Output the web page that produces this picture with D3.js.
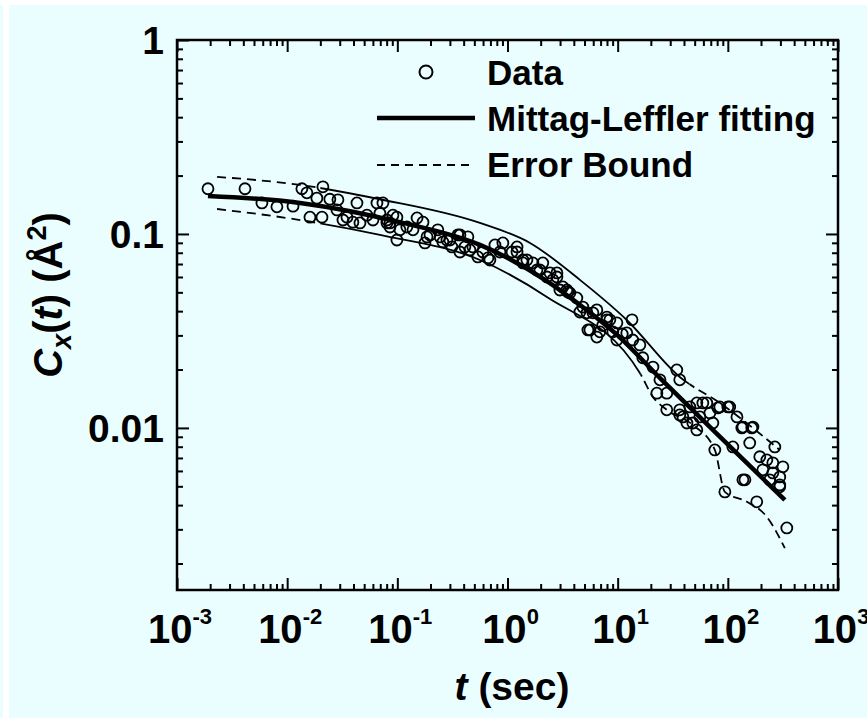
<!DOCTYPE html>
<html>
<head>
<meta charset="utf-8">
<script src="https://cdn.jsdelivr.net/npm/d3@7"></script>
<style>
  html, body { margin: 0; padding: 0; background: #eafeff; }
  svg text { font-family: "Liberation Sans", Arial, sans-serif; font-weight: bold; fill: #000; }
</style>
</head>
<body>
<div id="chart"></div>
<script>
// measured data points (t in sec, C in A^2)
var dataT = [0.00191, 0.00414, 0.0059, 0.00807, 0.0113, 0.0136, 0.0161, 0.0207, 0.0211, 0.0186,
  0.0244, 0.0289, 0.0321, 0.043, 0.0395, 0.0458, 0.0653, 0.0601, 0.0805, 0.0991,
  0.0991, 0.122, 0.151, 0.171, 0.186, 0.244, 0.300, 0.370, 0.437, 0.410,
  0.538, 0.692, 0.074, 0.0805, 0.0912, 0.178, 0.233, 0.282, 0.355, 0.456,
  0.664, 0.908, 1.10, 1.22, 1.38, 1.85, 2.09, 2.43, 2.81, 3.18,
  3.53, 4.26, 4.54, 5.96, 7.98, 5.37, 9.84, 6.89, 1.38, 2.81,
  3.46, 5.26, 5.60, 6.47, 7.98, 9.84, 12.1, 13.5, 13.7, 16.9,
  20.9, 24.2, 34.4, 36.6, 22.7, 27.9, 36.6, 42.5, 45.2, 52.3,
  64.4, 68.7, 55.7, 73.1, 84.6, 104, 121, 137, 169, 158,
  195, 226, 256, 267, 316, 256, 296, 76.2, 143, 94.0,
  183, 343, 48.1, 111, 208, 240, 39.1, 52.3, 59.3, 81.1,
  100, 134, 165, 137, 296, 296, 36.6, 27.9, 7.3, 11.0, 15.9,
  0.0857, 0.1056, 0.1387, 0.198, 0.259, 0.313, 0.370, 0.485, 0.598, 0.769,
  0.853, 1.22, 1.50, 1.70, 1.97, 2.28, 2.58, 2.99, 3.68, 4.83,
  6.47, 8.49, 9.04, 0.0151, 0.0283, 0.0349, 0.053, 0.0695, 0.0857];
var dataC = [0.171, 0.171, 0.1445, 0.138, 0.139, 0.171, 0.122, 0.122, 0.175, 0.153,
  0.151, 0.150, 0.118, 0.1445, 0.115, 0.114, 0.1445, 0.118, 0.114, 0.122,
  0.0931, 0.1086, 0.121, 0.115, 0.0966, 0.0966, 0.0931, 0.0989, 0.0966, 0.0857,
  0.0761, 0.0734, 0.1445, 0.118, 0.125, 0.0899, 0.105, 0.0931, 0.0989, 0.0827,
  0.0752, 0.0899, 0.0807, 0.0807, 0.0734, 0.0652, 0.0709, 0.0630, 0.0600, 0.0533,
  0.0502, 0.0468, 0.0396, 0.0392, 0.0373, 0.0320, 0.0348, 0.0313, 0.0709, 0.0630,
  0.0514, 0.0392, 0.0320, 0.0294, 0.0361, 0.0284, 0.0309, 0.0361, 0.0284, 0.0230,
  0.0206, 0.0177, 0.0199, 0.0177, 0.0151, 0.0124, 0.01167, 0.0106, 0.01283, 0.01345,
  0.01345, 0.01194, 0.0114, 0.0106, 0.01283, 0.01283, 0.0114, 0.0101, 0.0101, 0.00837,
  0.0071, 0.00684, 0.00661, 0.00798, 0.00630, 0.00586, 0.00497, 0.0077, 0.00540, 0.00468,
  0.00416, 0.00305, 0.0106, 0.00798, 0.00608, 0.00540, 0.0114, 0.00977, 0.01345, 0.01268,
  0.01283, 0.0100, 0.0100, 0.0054, 0.00559, 0.00508, 0.0124, 0.0151, 0.0337, 0.0305, 0.0268,
  0.114, 0.105, 0.105, 0.0989, 0.091, 0.0857, 0.0807, 0.0857, 0.0807, 0.0878,
  0.0807, 0.0857, 0.0734, 0.0709, 0.0652, 0.060, 0.058, 0.0514, 0.0496, 0.042,
  0.0406, 0.0361, 0.0313, 0.163, 0.133, 0.122, 0.125, 0.128, 0.1086];

// Mittag-Leffler fit
var fitT = [0.00191, 0.0131, 0.1056, 0.562, 2.28, 4.54, 9.43, 25.7, 73.1, 329];
var fitC = [0.157, 0.1445, 0.115, 0.0878, 0.0572, 0.0431, 0.0309, 0.01746, 0.00977, 0.00425];

// error bounds
var upperT = [0.00231, 0.0131, 0.0695, 0.562, 1.60, 4.54, 12.1, 36.6, 84.6, 296];
var upperC = [0.197, 0.179, 0.151, 0.114, 0.0899, 0.058, 0.036, 0.0183, 0.01345, 0.0077];
var lowerT = [0.00231, 0.0131, 0.0695, 0.562, 2.28, 15.9, 20.9, 27.9, 48.1, 76.2, 94.0, 149, 226, 329];
var lowerC = [0.1345, 0.118, 0.0989, 0.0734, 0.0473, 0.0192, 0.01445, 0.0124, 0.01036, 0.0077, 0.00468, 0.00416, 0.00348, 0.0024];

var xTicks = [1e-3, 1e-2, 1e-1, 1e0, 1e1, 1e2, 1e3];
var xExp = ["-3", "-2", "-1", "0", "1", "2", "3"];
var yTicks = [1, 0.1, 0.01];
var yLabels = ["1", "0.1", "0.01"];
var legendLabels = ["Data", "Mittag-Leffler fitting", "Error Bound"];

var width = 867, height = 718;
var plot = { left: 177, right: 838, top: 40, bottom: 590 };

var svg = d3.select("#chart").append("svg")
  .attr("width", width)
  .attr("height", height);

// scan border stripes
svg.append("rect").attr("x", 0).attr("y", 0).attr("width", width).attr("height", 5).attr("fill", "#fff");
svg.append("rect").attr("x", 3).attr("y", 0).attr("width", 6).attr("height", height).attr("fill", "#fff");

var x = d3.scaleLog().domain([1e-3, 1e3]).range([plot.left, plot.right]);
var y = d3.scaleLog().domain([1, 0.00146]).range([plot.top, plot.bottom]);

var minorX = x.ticks().filter(function (d) { return xTicks.indexOf(d) < 0; });
var minorY = y.ticks().filter(function (d) {
  var e = Math.log10(d);
  return Math.abs(e - Math.round(e)) > 1e-6;
});

// ticks (inward on all four sides)
function drawAxis(axis, tx, ty) {
  var g = svg.append("g").attr("transform", "translate(" + tx + "," + ty + ")").call(axis);
  g.select(".domain").remove();
  g.selectAll("line").attr("stroke", "#000").attr("stroke-width", 2);
  g.selectAll("text").remove();
}
drawAxis(d3.axisBottom(x).tickValues(xTicks).tickSize(-12).tickFormat(""), 0, plot.bottom);
drawAxis(d3.axisBottom(x).tickValues(minorX).tickSize(-6).tickFormat(""), 0, plot.bottom);
drawAxis(d3.axisTop(x).tickValues(xTicks).tickSize(-12).tickFormat(""), 0, plot.top);
drawAxis(d3.axisTop(x).tickValues(minorX).tickSize(-6).tickFormat(""), 0, plot.top);
drawAxis(d3.axisLeft(y).tickValues(yTicks).tickSize(-12).tickFormat(""), plot.left, 0);
drawAxis(d3.axisLeft(y).tickValues(minorY).tickSize(-6).tickFormat(""), plot.left, 0);
drawAxis(d3.axisRight(y).tickValues(yTicks).tickSize(-12).tickFormat(""), plot.right, 0);
drawAxis(d3.axisRight(y).tickValues(minorY).tickSize(-6).tickFormat(""), plot.right, 0);

svg.append("rect")
  .attr("x", plot.left).attr("y", plot.top)
  .attr("width", plot.right - plot.left).attr("height", plot.bottom - plot.top)
  .attr("fill", "none").attr("stroke", "#000").attr("stroke-width", 2.5);

// tick labels
var xl = svg.append("g").selectAll("text")
  .data(xTicks)
  .enter().append("text")
  .attr("x", function (d) { return x(d) + 3; })
  .attr("y", plot.bottom + 53)
  .attr("text-anchor", "middle")
  .style("font-size", "40px");
xl.append("tspan").text("10");
xl.append("tspan")
  .attr("dy", -19)
  .style("font-size", "22px")
  .text(function (d, i) { return xExp[i]; });

svg.append("g").selectAll("text")
  .data(yTicks)
  .enter().append("text")
  .attr("x", 164)
  .attr("y", function (d) { return y(d) + 14; })
  .attr("text-anchor", "end")
  .style("font-size", "39px")
  .text(function (d, i) { return yLabels[i]; });

// axis titles
var xt = svg.append("text")
  .attr("x", 512).attr("y", 700)
  .attr("text-anchor", "middle")
  .style("font-size", "39px");
xt.append("tspan").style("font-style", "italic").text("t");
xt.append("tspan").text(" (sec)");

var yt = svg.append("text")
  .attr("transform", "translate(62,295) rotate(-90)")
  .attr("text-anchor", "middle")
  .style("font-size", "40px");
yt.append("tspan").style("font-style", "italic").text("C");
yt.append("tspan").attr("dy", 9).style("font-size", "27px").style("font-style", "italic").text("x");
yt.append("tspan").attr("dy", -9).text("(");
yt.append("tspan").style("font-style", "italic").text("t");
yt.append("tspan").text(") (Å");
yt.append("tspan").attr("dy", -16).style("font-size", "27px").text("2");
yt.append("tspan").attr("dy", 16).text(")");

// error bounds: dashed where sparse, solid in the middle
var line = d3.line()
  .x(function (d) { return x(d[0]); })
  .y(function (d) { return y(d[1]); })
  .curve(d3.curveMonotoneX);

var defs = svg.append("defs");
function clip(id, t0, t1) {
  defs.append("clipPath").attr("id", id).append("rect")
    .attr("x", x(t0)).attr("y", 0)
    .attr("width", x(t1) - x(t0)).attr("height", height);
}
clip("up-dash1", 1e-3, 0.02);
clip("up-solid", 0.02, 45);
clip("up-dash2", 45, 1e3);
clip("lo-dash1", 1e-3, 0.02);
clip("lo-solid", 0.02, 16);
clip("lo-dash2", 16, 1e3);

var upper = d3.zip(upperT, upperC);
var lower = d3.zip(lowerT, lowerC);
[["up", upper], ["lo", lower]].forEach(function (b) {
  [["dash1", "9,6"], ["solid", null], ["dash2", "9,5"]].forEach(function (s) {
    svg.append("path")
      .attr("d", line(b[1]))
      .attr("clip-path", "url(#" + b[0] + "-" + s[0] + ")")
      .attr("fill", "none")
      .attr("stroke", "#000")
      .attr("stroke-width", 1.8)
      .attr("stroke-dasharray", s[1]);
  });
});

// data circles
svg.append("g").selectAll("circle")
  .data(d3.zip(dataT, dataC))
  .enter().append("circle")
  .attr("cx", function (d) { return x(d[0]); })
  .attr("cy", function (d) { return y(d[1]); })
  .attr("r", 5.5)
  .attr("fill", "none")
  .attr("stroke", "#000")
  .attr("stroke-width", 1.8);

// fit
svg.append("path")
  .attr("d", line(d3.zip(fitT, fitC)))
  .attr("fill", "none")
  .attr("stroke", "#000")
  .attr("stroke-width", 4.5);

// legend
var lg = svg.append("g");
lg.append("circle").attr("cx", 426).attr("cy", 72).attr("r", 6.5)
  .attr("fill", "none").attr("stroke", "#000").attr("stroke-width", 2);
lg.append("line").attr("x1", 377).attr("x2", 475).attr("y1", 118).attr("y2", 118)
  .attr("stroke", "#000").attr("stroke-width", 4.5);
lg.append("line").attr("x1", 377).attr("x2", 475).attr("y1", 165).attr("y2", 165)
  .attr("stroke", "#000").attr("stroke-width", 1.8).attr("stroke-dasharray", "8,6");
lg.selectAll("text")
  .data(legendLabels)
  .enter().append("text")
  .attr("x", 487)
  .attr("y", function (d, i) { return 85 + i * 46; })
  .style("font-size", "35px")
  .text(function (d) { return d; });
</script>
</body>
</html>
